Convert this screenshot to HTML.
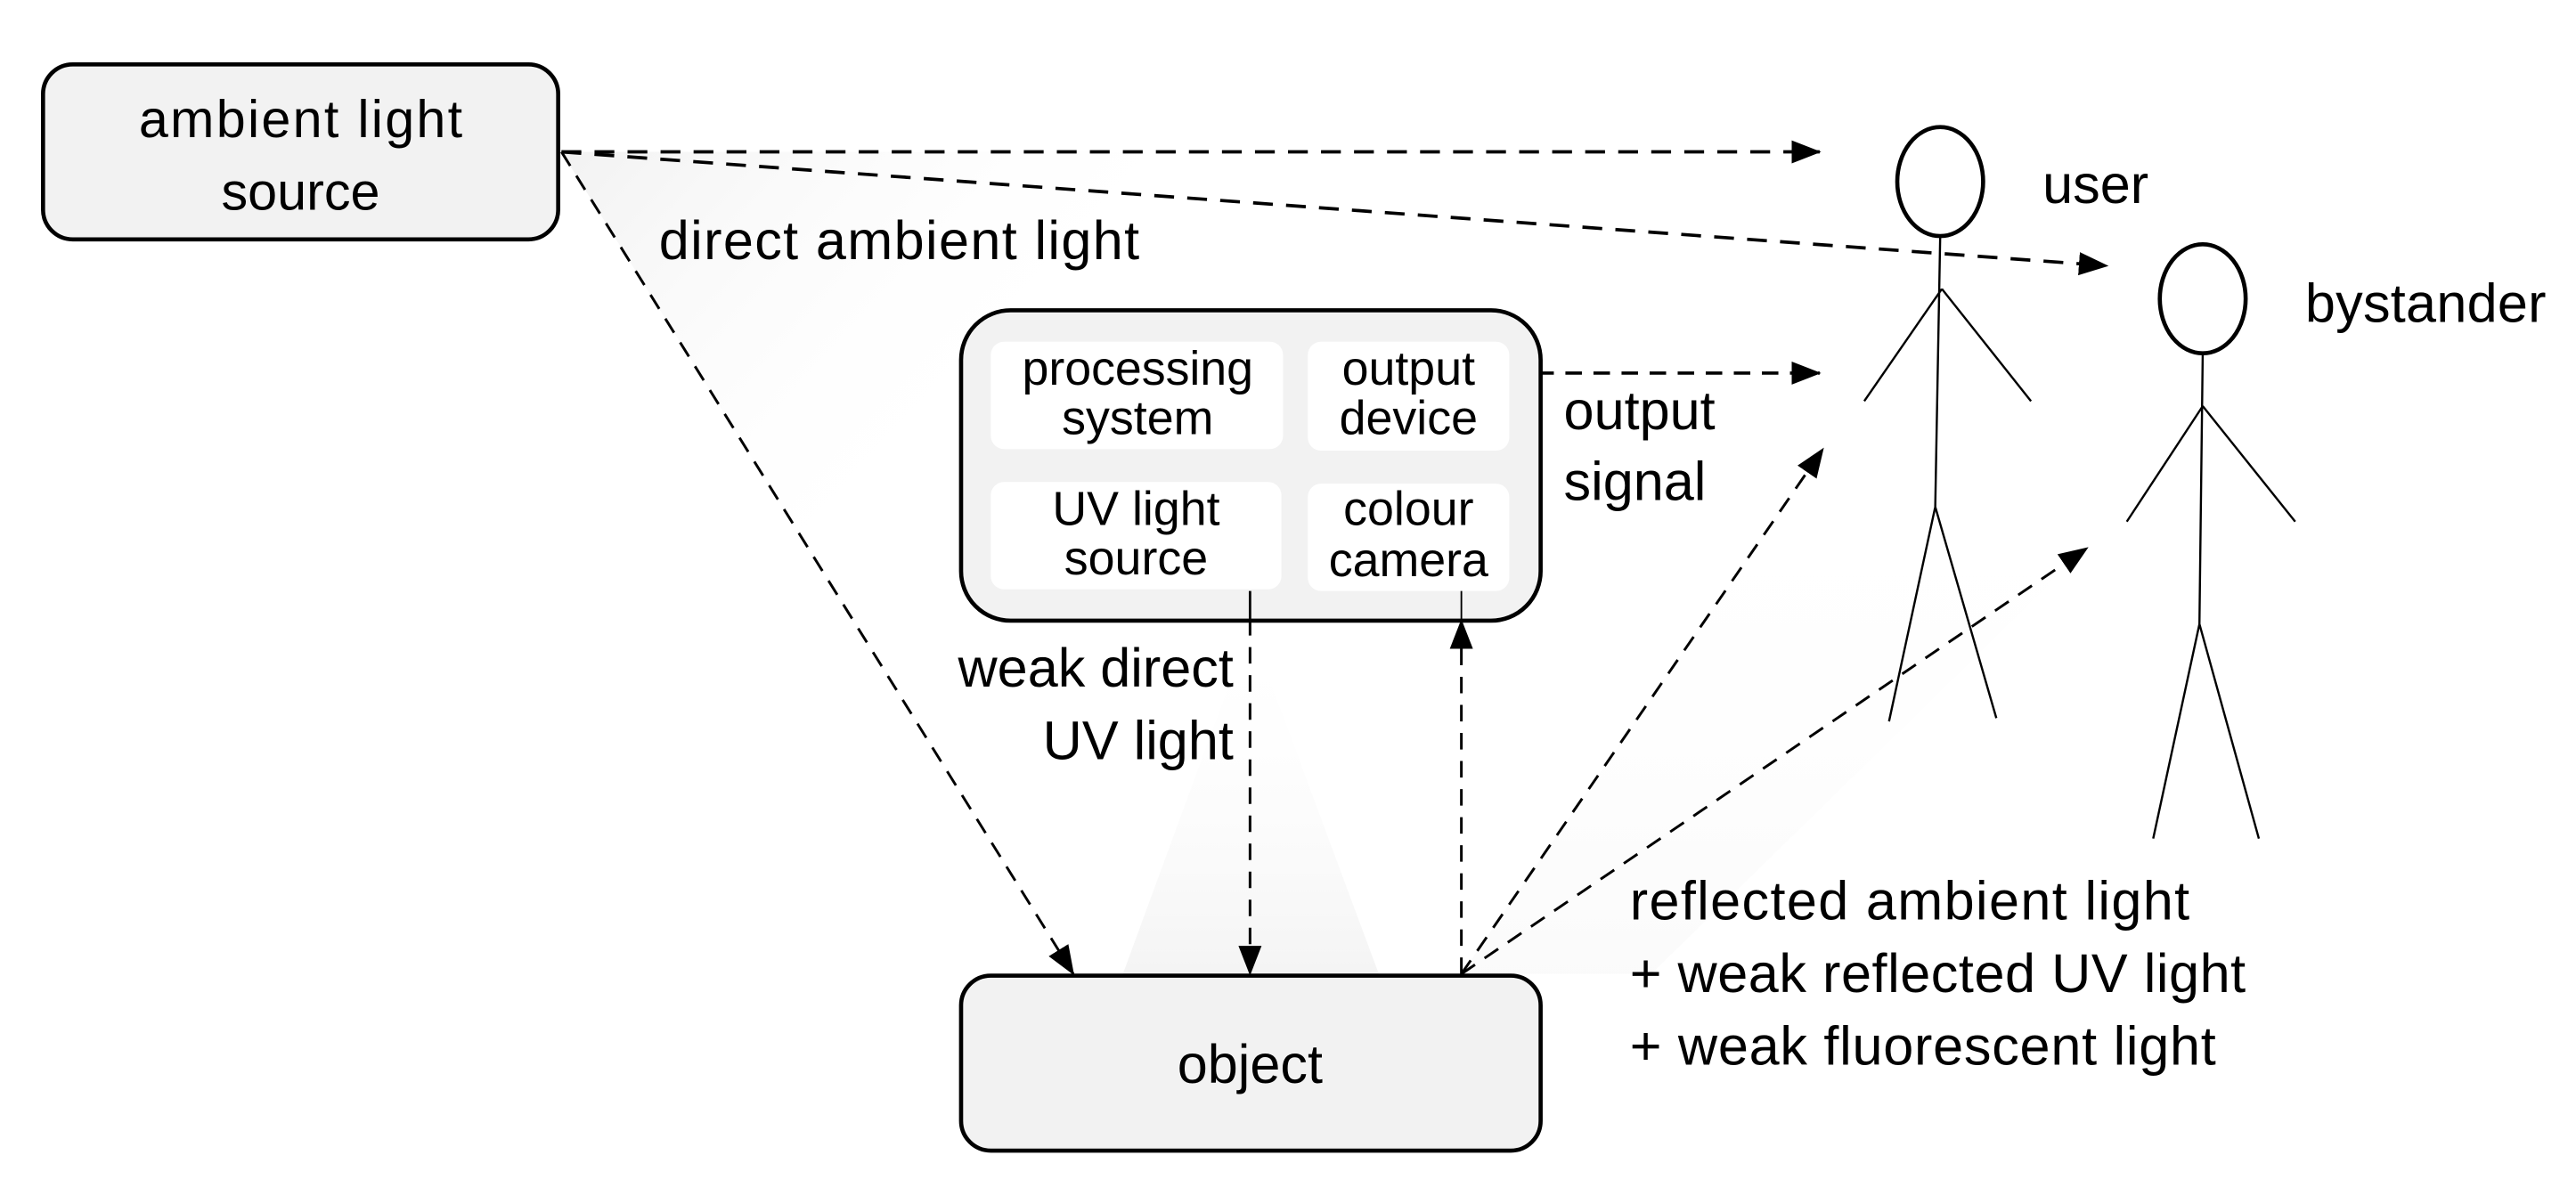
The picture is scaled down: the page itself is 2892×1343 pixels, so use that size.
<!DOCTYPE html>
<html><head><meta charset="utf-8"><style>
html,body{margin:0;padding:0;background:#fff;}
svg{display:block;}
text{font-family:"Liberation Sans Narrow","Liberation Sans",sans-serif;fill:#000;}
</style></head><body>
<svg width="2892" height="1343" viewBox="0 0 1560 724.5" xmlns="http://www.w3.org/2000/svg">
<defs>
<marker id="ahb" markerWidth="18" markerHeight="18" refX="17" refY="9" orient="auto" markerUnits="userSpaceOnUse" viewBox="0 0 18 18">
<path d="M0,2 L18,9 L0,16 z" fill="#000"/></marker>
<linearGradient id="g1" x1="0" y1="0" x2="1" y2="0.6"><stop offset="0" stop-color="#f2f2f2"/><stop offset="0.4" stop-color="#fff" stop-opacity="0"/></linearGradient>
<linearGradient id="g2" x1="0" y1="1" x2="0" y2="0"><stop offset="0" stop-color="#f4f4f4"/><stop offset="1" stop-color="#fff" stop-opacity="0"/></linearGradient>
</defs>
<polygon points="340,92 1100,92 650,590" fill="url(#g1)"/>
<polygon points="757,380 680,590 835,590" fill="url(#g2)"/>
<polygon points="885,590 1104,272 1264,332 1000,590" fill="url(#g2)" opacity="0.4"/>

<rect x="26" y="39" width="312" height="106" rx="18" fill="#f2f2f2" stroke="#000" stroke-width="2.5"/>
<text x="182" y="83" font-size="32" text-anchor="middle" textLength="196">ambient light</text>
<text x="182" y="127" font-size="32" text-anchor="middle">source</text>

<g stroke="#000" stroke-width="2" stroke-dasharray="12,8" fill="none">
<line x1="340" y1="92" x2="1102" y2="92" marker-end="url(#ahb)"/>
<line x1="340" y1="92" x2="1276" y2="161" marker-end="url(#ahb)"/>
</g>
<g stroke="#000" stroke-width="1.6" stroke-dasharray="10,7" fill="none">
<line x1="340" y1="92" x2="650" y2="590" marker-end="url(#ahb)"/>
<line x1="914" y1="226" x2="1102" y2="226" stroke-width="2" marker-end="url(#ahb)"/>
<line x1="757" y1="358" x2="757" y2="590" marker-end="url(#ahb)"/>
<line x1="885" y1="590" x2="885" y2="376" marker-end="url(#ahb)"/>
<line x1="885" y1="590" x2="1104" y2="272" marker-end="url(#ahb)"/>
<line x1="885" y1="590" x2="1264" y2="332" marker-end="url(#ahb)"/>
</g>
<text x="399" y="157" font-size="33" textLength="291">direct ambient light</text>

<rect x="582" y="188" width="351" height="188" rx="30" fill="#f2f2f2" stroke="#000" stroke-width="2.5"/>
<rect x="600" y="207" width="177" height="65" rx="8" fill="#fff"/>
<rect x="792" y="207" width="122" height="66" rx="8" fill="#fff"/>
<rect x="600" y="292" width="176" height="65" rx="8" fill="#fff"/>
<rect x="792" y="293" width="122" height="65" rx="8" fill="#fff"/>
<g font-size="29" text-anchor="middle">
<text x="689" y="233" textLength="140">processing</text><text x="689" y="263">system</text>
<text x="853" y="233">output</text><text x="853" y="263">device</text>
<text x="688" y="318">UV light</text><text x="688" y="348">source</text>
<text x="853" y="318">colour</text><text x="853" y="349">camera</text>
</g>
<line x1="757" y1="358" x2="757" y2="376" stroke="#000" stroke-width="1.5"/>
<line x1="885" y1="358" x2="885" y2="376" stroke="#000" stroke-width="1"/>
<text x="947" y="260" font-size="33">output</text>
<text x="947" y="303" font-size="33">signal</text>
<text x="747" y="416" font-size="33" text-anchor="end">weak direct</text>
<text x="747" y="460" font-size="33" text-anchor="end">UV light</text>

<rect x="582" y="591" width="351" height="106" rx="18" fill="#f2f2f2" stroke="#000" stroke-width="2.5"/>
<text x="757" y="656" font-size="33" text-anchor="middle">object</text>

<text x="987" y="557" font-size="33" textLength="339">reflected ambient light</text>
<text x="987" y="601" font-size="33" textLength="373">+ weak reflected UV light</text>
<text x="987" y="645" font-size="33" textLength="355">+ weak fluorescent light</text>

<g stroke="#000" fill="none">
<ellipse cx="1175" cy="110" rx="26" ry="33" stroke-width="2.5"/>
<path d="M1175,143 L1172,307 M1176,175 L1129,243 M1176,175 L1230,243 M1172,307 L1144,437 M1172,307 L1209,435" stroke-width="1.3"/>
<ellipse cx="1334" cy="181" rx="26" ry="33" stroke-width="2.5"/>
<path d="M1334,214 L1332,378 M1334,246 L1288,316 M1334,246 L1390,316 M1332,378 L1304,508 M1332,378 L1368,508" stroke-width="1.3"/>
</g>
<text x="1237" y="123" font-size="33">user</text>
<text x="1396" y="195" font-size="33" textLength="146">bystander</text>
</svg>
</body></html>
